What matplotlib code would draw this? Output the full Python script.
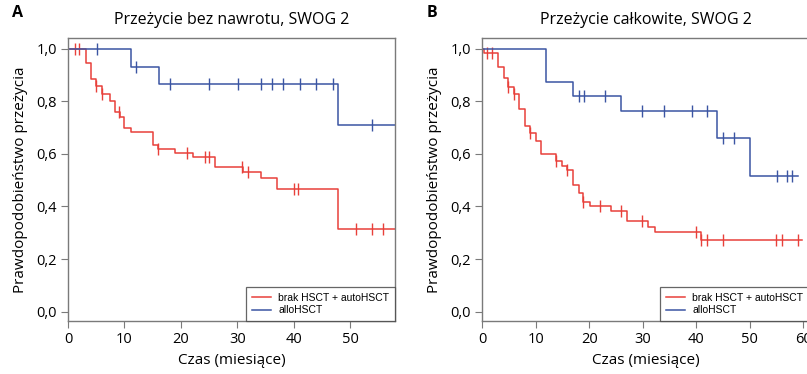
import matplotlib.pyplot as plt
import numpy as np

# Panel A - Przeżycie bez nawrotu
red_a_t = [0, 3.1, 4.1, 5.0, 6.0, 7.5, 8.3, 9.2, 10.0, 11.2, 15.0, 16.0, 19.0, 22.1, 26.1, 31.0, 34.1, 37.0, 47.9, 58]
red_a_s = [1.0, 0.946, 0.885, 0.86, 0.83, 0.80, 0.76, 0.74, 0.70, 0.685, 0.635, 0.62, 0.605, 0.587, 0.549, 0.53, 0.508, 0.466, 0.316, 0.316]
red_a_cens = [1.2, 2.0, 5.0, 6.0, 9.1, 16.0, 21.0, 24.2, 25.0, 30.8, 31.8, 40.1, 40.8, 51.0, 53.9, 55.8]

blue_a_t = [0, 11.1, 16.1, 47.9, 58]
blue_a_s = [1.0, 0.93, 0.867, 0.709, 0.709]
blue_a_cens = [5.2, 12.1, 18.1, 25.0, 30.1, 34.1, 36.1, 38.0, 41.1, 43.9, 47.0, 53.9]

# Panel B - Przeżycie całkowite
red_b_t = [0, 0.4, 2.9, 4.1, 4.9, 6.0, 6.9, 8.1, 8.9, 10.0, 11.1, 13.8, 14.9, 15.8, 16.9, 18.1, 18.8,
           20.1, 24.0, 27.1, 31.0, 32.2, 40.9, 59.8]
red_b_s = [1.0, 0.986, 0.93, 0.888, 0.856, 0.83, 0.77, 0.707, 0.68, 0.648, 0.60, 0.572, 0.556, 0.54, 0.482,
           0.45, 0.418, 0.402, 0.384, 0.345, 0.323, 0.304, 0.272, 0.272]
red_b_cens = [1.0, 1.9, 4.9, 6.0, 8.9, 13.9, 15.8, 18.8, 22.0, 26.0, 29.9, 39.9, 40.9, 41.9, 45.0, 54.9, 55.9, 59.0]

blue_b_t = [0, 11.9, 16.9, 26.0, 43.9, 50.0, 58.9]
blue_b_s = [1.0, 0.873, 0.82, 0.764, 0.661, 0.516, 0.516]
blue_b_cens = [18.1, 19.0, 23.0, 29.9, 34.0, 39.1, 42.0, 45.0, 47.0, 55.1, 57.0, 57.9]

RED = '#e8403a'
BLUE = '#3b55a3'
GRAY = '#7a7a7a'
FONT = 'Open Sans'

plt.rcParams['font.family'] = [FONT, 'DejaVu Sans']


def km(ax, t, s, cens, color, label):
    ax.step(t, s, where='post', color=color, lw=1.1, label=label)
    idx = np.searchsorted(t, cens, side='right') - 1
    ax.plot(cens, np.array(s)[idx], ls='none', marker='|', ms=8, mew=1.0, color=color)


def panel(ax, title, letter, xmax):
    ax.set_xticks(range(0, 70, 10))
    ax.set_yticks(np.arange(0, 1.01, 0.2))
    ax.set_yticklabels([f'{v:.1f}'.replace('.', ',') for v in np.arange(0, 1.01, 0.2)])
    ax.set_xlim(0, xmax)
    ax.set_ylim(-0.036, 1.042)
    for sp in ax.spines.values():
        sp.set_color(GRAY)
        sp.set_linewidth(1.0)
    ax.tick_params(direction='out', length=5, color=GRAY, labelsize=10.5, pad=3)
    ax.set_xlabel('Czas (miesiące)', fontsize=11, labelpad=4)
    ax.set_ylabel('Prawdopodobieństwo przeżycia', fontsize=11, labelpad=6)
    ax.set_title(title, fontsize=11.5, pad=10)
    ax.text(-0.17, 1.06, letter, transform=ax.transAxes, fontsize=11.5, fontweight='bold', va='bottom')
    leg = ax.legend(loc='lower right', frameon=True, fancybox=False,
                    borderaxespad=0, handlelength=1.8, borderpad=0.55, labelspacing=0.25,
                    handletextpad=0.7, prop={'family': 'Liberation Sans', 'size': 7.5})
    leg.get_frame().set_edgecolor('#404040')
    leg.get_frame().set_linewidth(0.9)


fig = plt.figure(figsize=(8.07, 3.74), dpi=100)
ax1 = fig.add_axes([0.0843, 0.1417, 0.405, 0.757])
ax2 = fig.add_axes([0.5973, 0.1417, 0.405, 0.757])

km(ax1, red_a_t, red_a_s, red_a_cens, RED, 'brak HSCT + autoHSCT')
km(ax1, blue_a_t, blue_a_s, blue_a_cens, BLUE, 'alloHSCT')
panel(ax1, 'Przeżycie bez nawrotu, SWOG 2', 'A', 57.9)

km(ax2, red_b_t, red_b_s, red_b_cens, RED, 'brak HSCT + autoHSCT')
km(ax2, blue_b_t, blue_b_s, blue_b_cens, BLUE, 'alloHSCT')
panel(ax2, 'Przeżycie całkowite, SWOG 2', 'B', 61.0)

fig.savefig('out.png', dpi=100)
